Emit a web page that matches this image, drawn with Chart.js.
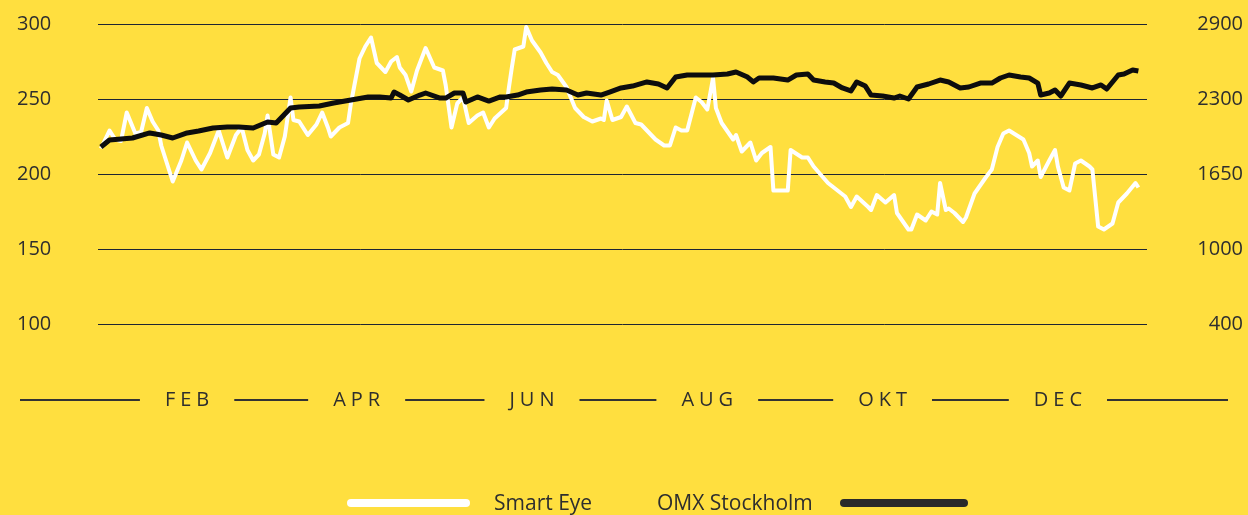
<!DOCTYPE html>
<html>
<head>
<meta charset="utf-8">
<script src="https://cdn.jsdelivr.net/npm/chart.js@4/dist/chart.umd.min.js"></script>
<style>
    body { margin: 0; background: #ffdf3f; }
    canvas { display: block; background: #ffdf3f; }
</style>
</head>
<body>
<canvas id="myChart" width="1248" height="515"></canvas>
<script>
// Smart Eye share price (left axis), day of year -> SEK
const smartEyeDays = [1, 2, 4, 6, 8, 10, 13, 15, 17, 19, 21, 22, 26, 29, 31, 34, 36, 39, 42, 45, 48, 50, 52, 54, 56, 58, 59, 61, 63, 65, 67, 68, 70, 73, 76, 78, 80, 81, 84, 87, 88, 91, 93, 95, 97, 100, 102, 104, 105, 107, 109, 111, 114, 117, 120, 121, 123, 125, 127, 129, 132, 134, 136, 138, 142, 143, 144, 145, 148, 149, 151, 154, 156, 158, 160, 163, 166, 169, 172, 175, 176, 177, 179, 182, 184, 187, 189, 191, 194, 197, 199, 201, 203, 205, 208, 210, 212, 214, 215, 217, 221, 222, 224, 227, 229, 231, 234, 235, 240, 241, 245, 247, 249, 254, 256, 260, 262, 264, 268, 269, 271, 274, 277, 278, 282, 283, 285, 288, 290, 292, 293, 295, 296, 298, 301, 302, 305, 309, 311, 313, 315, 317, 322, 324, 325, 327, 328, 331, 333, 334, 336, 338, 340, 342, 345, 346, 348, 350, 353, 355, 358, 361, 362];
const smartEyeValues = [217, 221, 229, 223, 222, 241, 227, 228, 244, 235, 229, 219, 195, 209, 221, 209, 203, 214, 229, 211, 226, 231, 216, 209, 213, 227, 239, 213, 211, 225, 251, 236, 235, 226, 233, 241, 231, 225, 231, 234, 247, 277, 285, 291, 274, 268, 275, 278, 271, 266, 255, 269, 284, 271, 269, 259, 231, 247, 251, 234, 239, 241, 231, 237, 244, 258, 271, 283, 285, 298, 289, 281, 274, 268, 266, 258, 244, 238, 235, 237, 236, 249, 236, 238, 245, 234, 233, 229, 223, 219, 219, 231, 229, 229, 251, 248, 243, 264, 244, 234, 223, 226, 215, 221, 209, 214, 218, 189, 189, 216, 211, 211, 205, 194, 191, 185, 178, 185, 178, 176, 186, 181, 186, 174, 163, 163, 173, 169, 175, 173, 194, 176, 177, 174, 168, 171, 187, 198, 203, 218, 227, 229, 223, 214, 205, 209, 198, 209, 216, 205, 191, 189, 207, 209, 205, 203, 165, 163, 167, 181, 187, 194, 191];

// OMX Stockholm index (right axis), day of year -> points
const omxDays = [1, 4, 8, 12, 18, 22, 26, 31, 35, 40, 45, 49, 54, 59, 62, 67, 70, 77, 82, 88, 94, 98, 102, 103, 105, 108, 112, 114, 119, 121, 124, 127, 128, 132, 136, 140, 142, 146, 149, 154, 158, 163, 167, 170, 175, 178, 182, 186, 191, 195, 198, 201, 205, 209, 214, 219, 222, 226, 228, 230, 235, 240, 243, 247, 249, 253, 256, 259, 262, 264, 267, 269, 273, 277, 279, 282, 285, 289, 293, 296, 300, 303, 307, 311, 314, 317, 321, 324, 327, 328, 331, 333, 335, 338, 342, 346, 349, 351, 355, 357, 360, 362];
const omxValues = [1875, 1933, 1942, 1950, 1992, 1975, 1950, 1992, 2008, 2033, 2042, 2042, 2033, 2083, 2075, 2200, 2208, 2217, 2242, 2267, 2292, 2292, 2283, 2333, 2308, 2267, 2308, 2325, 2283, 2283, 2325, 2325, 2250, 2292, 2258, 2292, 2292, 2308, 2333, 2350, 2358, 2350, 2308, 2325, 2308, 2333, 2367, 2383, 2417, 2400, 2367, 2458, 2475, 2475, 2475, 2483, 2500, 2458, 2417, 2450, 2450, 2433, 2475, 2483, 2433, 2417, 2408, 2367, 2342, 2417, 2383, 2308, 2300, 2283, 2300, 2275, 2375, 2400, 2433, 2417, 2367, 2375, 2408, 2408, 2450, 2475, 2458, 2450, 2408, 2308, 2325, 2350, 2300, 2408, 2392, 2367, 2392, 2358, 2475, 2483, 2517, 2508];

// axis labels
const monthLabels = ['FEB', 'APR', 'JUN', 'AUG', 'OKT', 'DEC'];
const monthDays = [31, 90, 151, 212, 273, 334];
const omxTickValues = [400, 1025, 1650, 2275, 2900];
const omxTickLabels = ['400', '1000', '1650', '2300', '2900'];

const textColor = '#2e2e2e';
const fontFamily = '"Open Sans", sans-serif';

// month labels with the line pieces between them
const monthAxisPlugin = {
    id: 'monthAxis',
    afterDraw(chart) {
        const ctx = chart.ctx;
        const xs = chart.scales.x;
        const y = 400;
        const gap = 25;
        ctx.save();
        ctx.font = '20px ' + fontFamily;
        ctx.letterSpacing = '5px';
        ctx.fillStyle = textColor;
        ctx.strokeStyle = '#333';
        ctx.lineWidth = 2;
        ctx.textBaseline = 'middle';
        ctx.textAlign = 'left';
        let prevEnd = 20;
        monthLabels.forEach((lab, i) => {
            const cx = xs.getPixelForValue(monthDays[i]);
            const w = ctx.measureText(lab).width - 5;
            const left = cx - w / 2;
            ctx.beginPath();
            ctx.moveTo(prevEnd, y);
            ctx.lineTo(left - gap, y);
            ctx.stroke();
            ctx.fillText(lab, left, y);
            prevEnd = left + w + gap;
        });
        ctx.beginPath();
        ctx.moveTo(prevEnd, y);
        ctx.lineTo(1228, y);
        ctx.stroke();
        ctx.restore();
    }
};

// legend: line sample left of first label, right of second label
const legendPlugin = {
    id: 'customLegend',
    afterDraw(chart) {
        const ctx = chart.ctx;
        const y = 503;
        const se = chart.data.datasets[0];
        const omx = chart.data.datasets[1];
        ctx.save();
        ctx.font = '21px ' + fontFamily;
        ctx.fillStyle = textColor;
        ctx.textBaseline = 'middle';
        ctx.textAlign = 'left';
        ctx.lineCap = 'round';
        ctx.lineWidth = 8;

        ctx.strokeStyle = se.borderColor;
        ctx.beginPath();
        ctx.moveTo(351, y);
        ctx.lineTo(466, y);
        ctx.stroke();
        ctx.fillText(se.label, 494, y + 1);

        ctx.fillText(omx.label, 657, y + 1);
        ctx.strokeStyle = '#2a2a2a';
        ctx.beginPath();
        ctx.moveTo(844, y);
        ctx.lineTo(964, y);
        ctx.stroke();
        ctx.restore();
    }
};

const ctx = document.getElementById('myChart').getContext('2d');

const chart = new Chart(ctx, {
    type: 'line',
    data: {
        datasets: [{
            label: 'Smart Eye',
            data: smartEyeDays.map((d, i) => ({ x: d, y: smartEyeValues[i] })),
            borderColor: '#ffffff',
            borderWidth: 4,
            pointRadius: 0,
            tension: 0,
            borderJoinStyle: 'round',
            yAxisID: 'y',
            order: 1
        }, {
            label: 'OMX Stockholm',
            data: omxDays.map((d, i) => ({ x: d, y: omxValues[i] })),
            borderColor: '#0d0d0d',
            borderWidth: 5,
            pointRadius: 0,
            tension: 0,
            borderJoinStyle: 'round',
            yAxisID: 'y2',
            order: 0
        }]
    },
    options: {
        responsive: false,
        animation: false,
        layout: {
            padding: { left: 17, right: 5, top: 24, bottom: 0 }
        },
        plugins: {
            legend: { display: false },
            tooltip: { enabled: false }
        },
        scales: {
            x: {
                type: 'linear',
                min: 0,
                max: 365,
                grid: { display: false },
                border: { display: false },
                ticks: { display: false },
                afterFit: function(scale) {
                    scale.height = 191;
                }
            },
            y: {
                position: 'left',
                min: 100,
                max: 300,
                ticks: {
                    stepSize: 50,
                    crossAlign: 'far',
                    color: textColor,
                    font: { family: fontFamily, size: 20 }
                },
                grid: {
                    color: '#1e2533',
                    lineWidth: 1,
                    drawTicks: false
                },
                border: { display: false },
                afterFit: function(scale) {
                    scale.width = 81;
                }
            },
            y2: {
                position: 'right',
                min: 400,
                max: 2900,
                afterBuildTicks: function(scale) {
                    scale.ticks = omxTickValues.map(v => ({ value: v }));
                },
                ticks: {
                    crossAlign: 'far',
                    color: textColor,
                    font: { family: fontFamily, size: 20 },
                    callback: function(value, index) {
                        return omxTickLabels[index];
                    }
                },
                grid: { display: false, drawTicks: false },
                border: { display: false },
                afterFit: function(scale) {
                    scale.width = 96;
                }
            }
        }
    },
    plugins: [monthAxisPlugin, legendPlugin]
});
</script>
</body>
</html>
